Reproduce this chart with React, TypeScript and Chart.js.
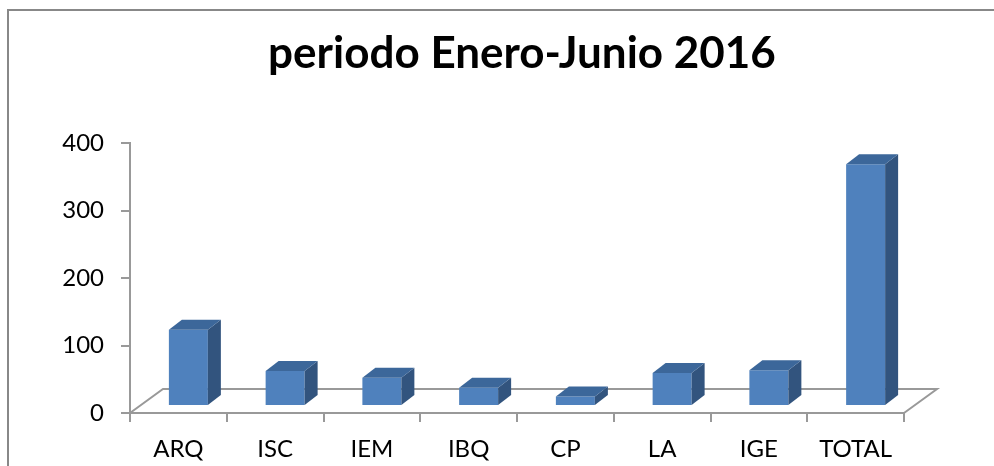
import React, { useEffect, useRef } from 'react';
import { Chart, registerables } from 'chart.js';

Chart.register(...registerables);

// ---- data ----
const categories = ['ARQ', 'ISC', 'IEM', 'IBQ', 'CP', 'LA', 'IGE', 'TOTAL'];
const values = [113, 52, 42, 27, 14, 49, 53, 358];
const yTicks = [0, 100, 200, 300, 400];
const titleText = 'periodo Enero-Junio 2016';

// ---- styles ----
const GRAY = '#999999';
const FRONT = '#4f81bd';
const TOP = '#3c679a';
const SIDE = '#32547e';
const FONT = 'Lato';
const FLOOR_DEPTH = { dx: 33, dy: -24 };
const BAR_SHIFT = { dx: 10, dy: -7 };
const BAR_DEPTH = { dx: 13, dy: -10 };

const threeD = {
  id: 'threeD',
  beforeDraw(chart: any) {
    const ctx = chart.ctx;
    ctx.save();
    ctx.fillStyle = '#ffffff';
    ctx.fillRect(0, 0, chart.width, chart.height);
    ctx.strokeStyle = '#888888';
    ctx.lineWidth = 2;
    ctx.strokeRect(8, 10, chart.width + 20, chart.height + 20);
    ctx.restore();
  },
  beforeDatasetsDraw(chart: any) {
    const { ctx, chartArea } = chart;
    const { left, right, bottom } = chartArea;
    ctx.save();
    ctx.strokeStyle = GRAY;
    ctx.lineWidth = 2;
    ctx.beginPath();
    ctx.moveTo(left, bottom);
    ctx.lineTo(left + FLOOR_DEPTH.dx, bottom + FLOOR_DEPTH.dy);
    ctx.lineTo(right + FLOOR_DEPTH.dx, bottom + FLOOR_DEPTH.dy);
    ctx.lineTo(right, bottom);
    ctx.stroke();
    ctx.restore();
  },
  beforeDatasetDraw(chart: any) {
    chart.ctx.save();
    chart.ctx.translate(BAR_SHIFT.dx, BAR_SHIFT.dy);
  },
  afterDatasetDraw(chart: any, args: any) {
    const ctx = chart.ctx;
    const meta = chart.getDatasetMeta(args.index);
    meta.data.forEach((el: any) => {
      const { x, y, base, width } = el.getProps(['x', 'y', 'base', 'width'], true);
      const l = x - width / 2;
      const r = x + width / 2;
      ctx.fillStyle = SIDE;
      ctx.beginPath();
      ctx.moveTo(r, y);
      ctx.lineTo(r + BAR_DEPTH.dx, y + BAR_DEPTH.dy);
      ctx.lineTo(r + BAR_DEPTH.dx, base + BAR_DEPTH.dy);
      ctx.lineTo(r, base);
      ctx.closePath();
      ctx.fill();
      ctx.fillStyle = TOP;
      ctx.beginPath();
      ctx.moveTo(l, y);
      ctx.lineTo(l + BAR_DEPTH.dx, y + BAR_DEPTH.dy);
      ctx.lineTo(r + BAR_DEPTH.dx, y + BAR_DEPTH.dy);
      ctx.lineTo(r, y);
      ctx.closePath();
      ctx.fill();
    });
    ctx.restore();
  },
  afterDraw(chart: any) {
    const ctx = chart.ctx;
    ctx.save();
    ctx.fillStyle = '#000000';
    ctx.font = `bold 44px ${FONT}`;
    ctx.textAlign = 'center';
    ctx.textBaseline = 'alphabetic';
    ctx.fillText(titleText, 522, 68);
    ctx.restore();
  },
};

export default function App() {
  const ref = useRef<HTMLCanvasElement>(null);
  useEffect(() => {
    document.body.style.margin = '0';
    const chart = new Chart(ref.current as HTMLCanvasElement, {
      type: 'bar',
      data: {
        labels: categories,
        datasets: [
          {
            data: values,
            backgroundColor: FRONT,
            borderWidth: 0,
            barPercentage: 0.403,
            categoryPercentage: 1,
            clip: false as any,
          },
        ],
      },
      options: {
        responsive: false,
        animation: false,
        layout: { padding: { top: 143, right: 90, left: 0, bottom: 0 } },
        plugins: {
          legend: { display: false },
          title: { display: false },
          tooltip: { enabled: false },
        },
        scales: {
          x: {
            grid: {
              drawOnChartArea: false,
              drawTicks: true,
              tickLength: 9,
              color: GRAY,
              lineWidth: 2,
              offset: true,
            },
            border: { color: GRAY, width: 2 },
            ticks: { font: { size: 24, family: FONT }, color: '#000000', padding: 13 },
            afterFit: (s: any) => {
              s.height = 53;
            },
          },
          y: {
            min: yTicks[0],
            max: yTicks[yTicks.length - 1],
            ticks: {
              stepSize: yTicks[1] - yTicks[0],
              font: { size: 24, family: FONT },
              color: '#000000',
              padding: 17,
            },
            grid: {
              drawOnChartArea: false,
              drawTicks: true,
              tickLength: 9,
              color: GRAY,
              lineWidth: 2,
            },
            border: { color: GRAY, width: 2 },
            afterFit: (s: any) => {
              s.width = 130;
            },
          },
        },
      },
      plugins: [threeD],
    });
    return () => chart.destroy();
  }, []);
  return (
    <div style={{ width: 994, height: 466 }}>
      <canvas ref={ref} width={994} height={466} style={{ display: 'block' }} />
    </div>
  );
}
